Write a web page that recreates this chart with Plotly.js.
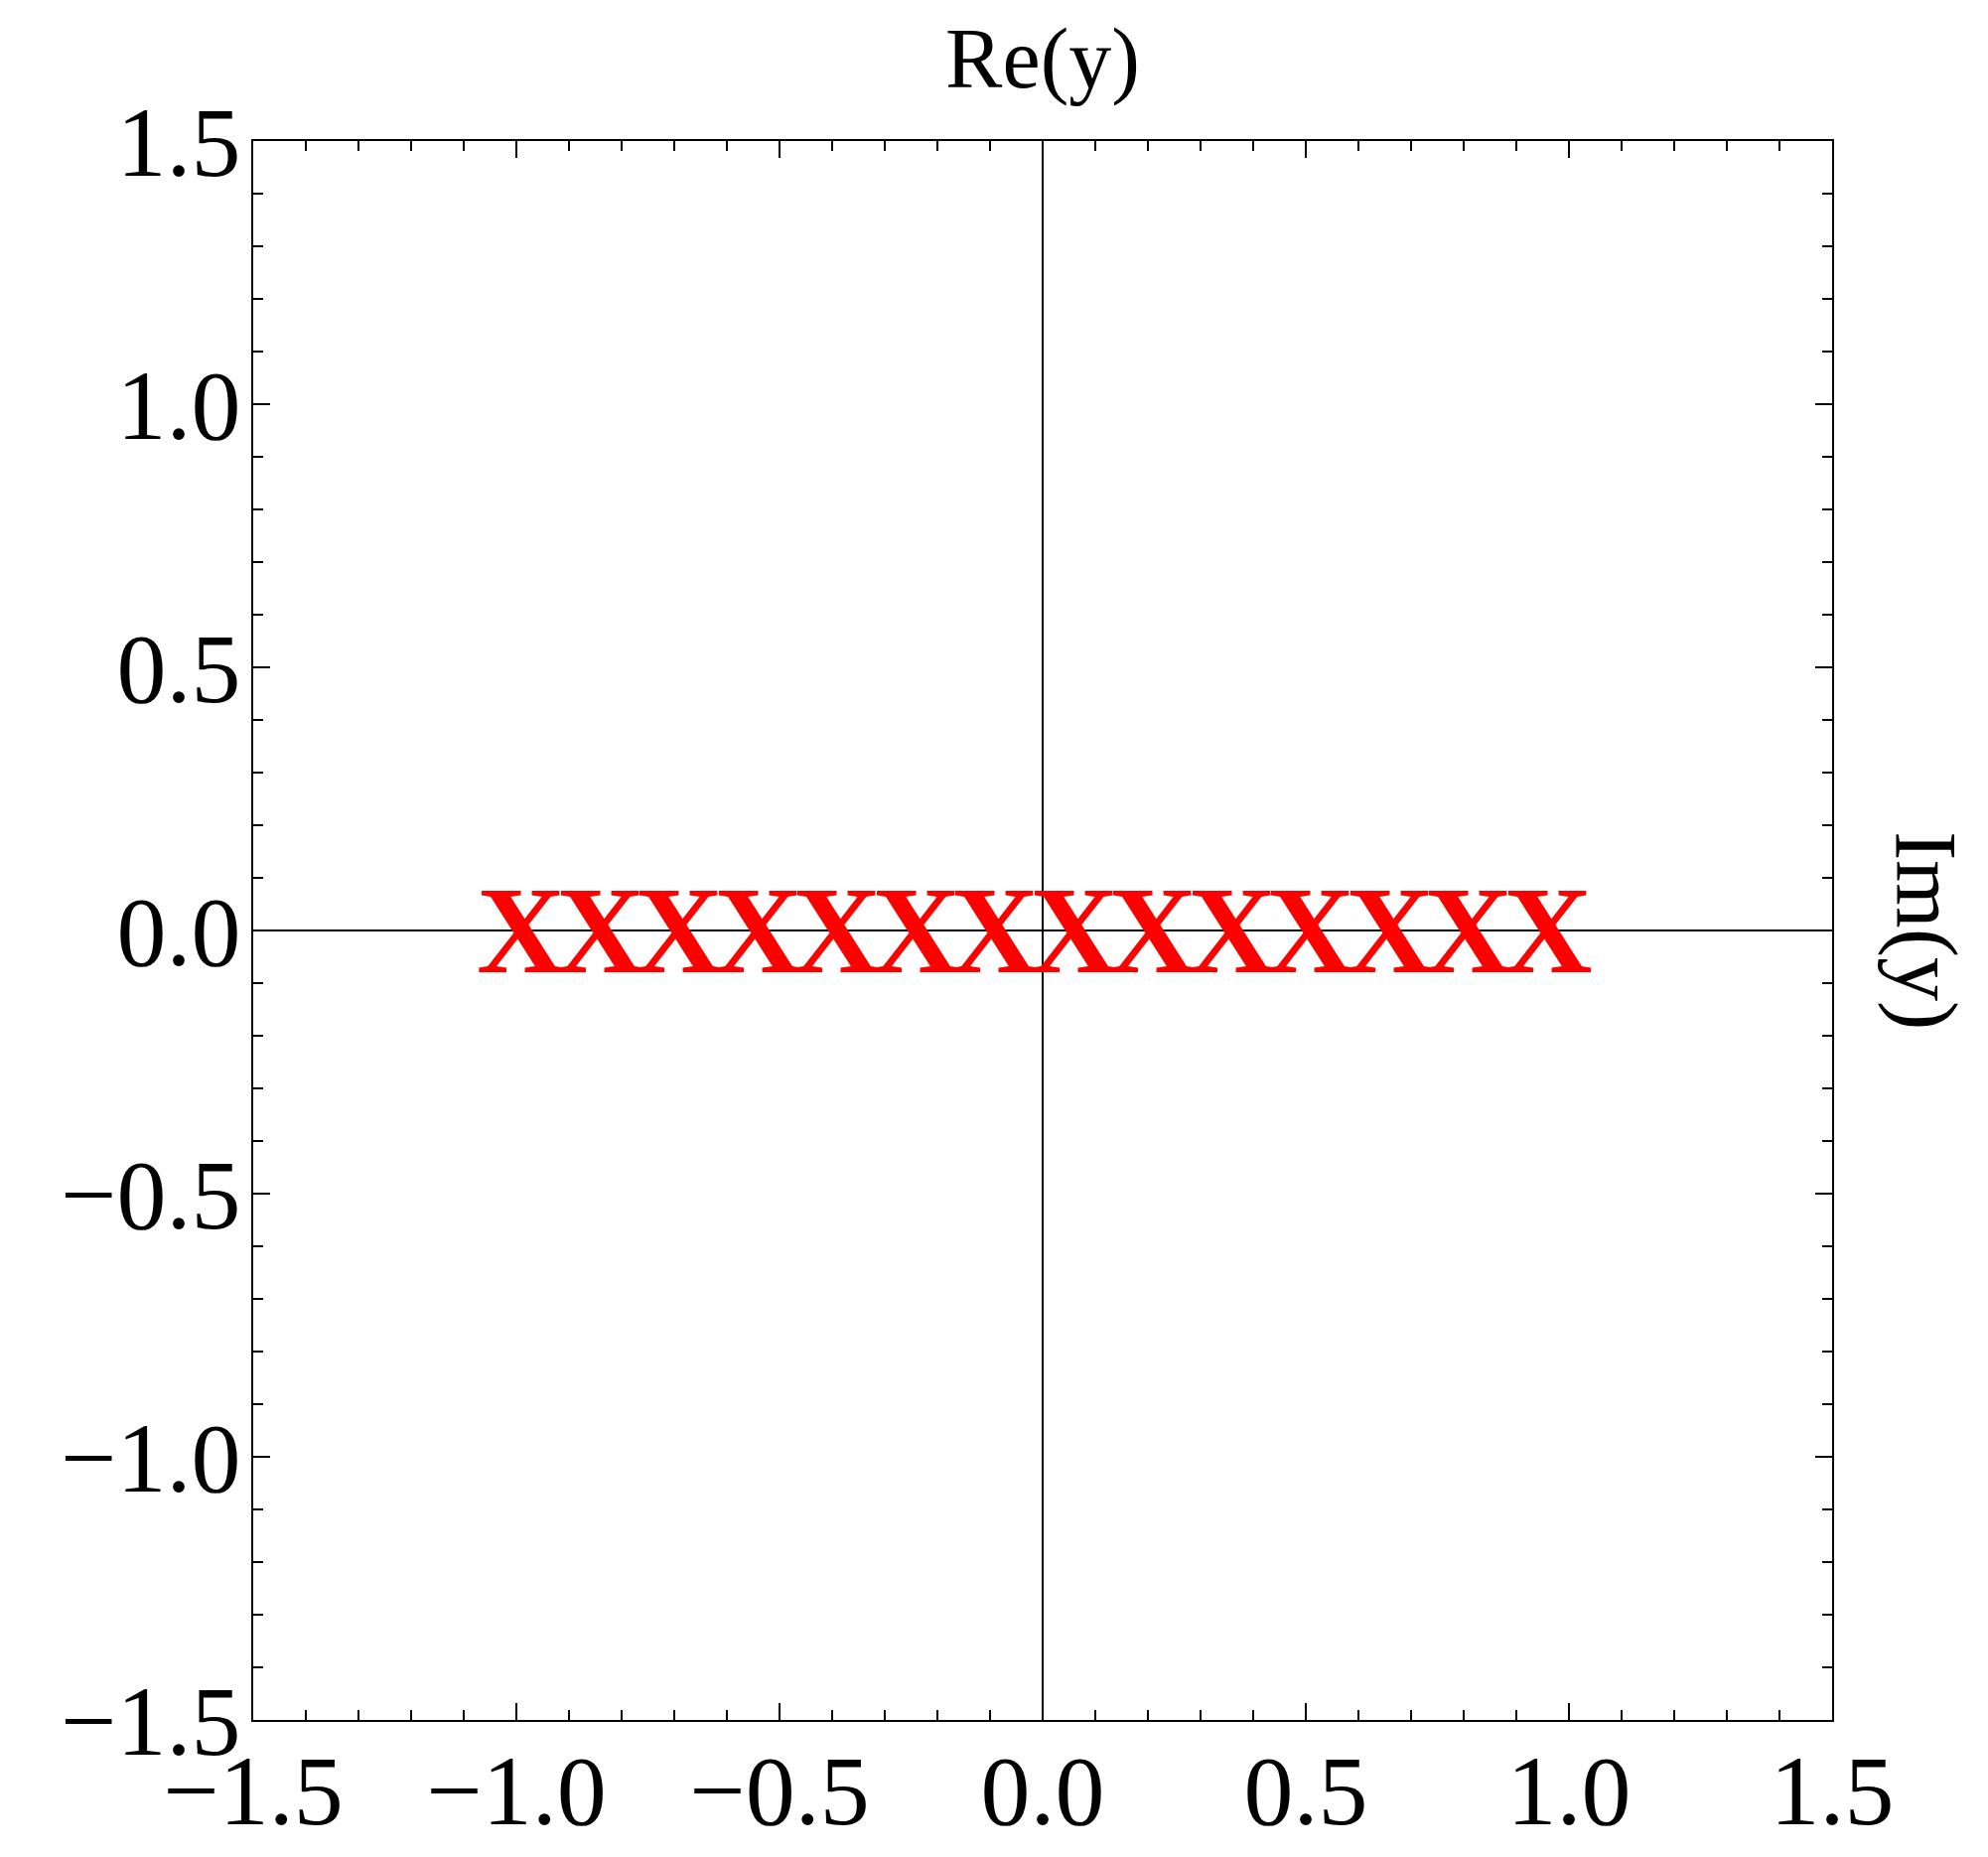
<!DOCTYPE html>
<html>
<head>
<meta charset="utf-8">
<script src="https://cdn.plot.ly/plotly-3.0.1.min.js"></script>
<style>
  body { margin: 0; background: #fff; }
  #plot { width: 2002px; height: 1870px; }
</style>
</head>
<body>
<div id="plot"></div>
<script>
// points on the real axis, drawn as "X" glyphs
const reValues = [-0.99, -0.84, -0.69, -0.54, -0.39, -0.24, -0.09, 0.06, 0.21, 0.36, 0.51, 0.66, 0.81, 0.96];
const imValues = [0, 0, 0, 0, 0, 0, 0, 0, 0, 0, 0, 0, 0, 0];
const tickValues = [-1.5, -1.0, -0.5, 0.0, 0.5, 1.0, 1.5];

const serif = 'Liberation Serif, Times New Roman, serif';

// empty trace so the axes exist; the glyphs are annotations placed on the data axes
const points = {
  x: reValues,
  y: imValues,
  mode: 'markers',
  type: 'scatter',
  marker: { size: 1, opacity: 0 },
  hoverinfo: 'none',
  showlegend: false
};

const crosses = reValues.map(function(re, i) {
  return {
    text: '<b>X</b>',
    xref: 'x', yref: 'y',
    x: re, y: imValues[i],
    xanchor: 'center', yanchor: 'middle',
    showarrow: false,
    borderpad: 0,
    font: { family: serif, size: 124, color: '#ff0000' }
  };
});

const axisStyle = {
  range: [-1.5, 1.5],
  tickvals: tickValues,
  tickformat: '.1f',
  ticks: 'inside',
  ticklen: 17,
  tickwidth: 1.3,
  tickcolor: '#000',
  showline: true,
  linecolor: '#000',
  linewidth: 1.6,
  mirror: 'allticks',
  showgrid: false,
  zeroline: true,
  zerolinecolor: '#000',
  zerolinewidth: 1.2,
  tickfont: { family: serif, size: 100, color: '#000' },
  minor: { dtick: 0.1, ticks: 'inside', ticklen: 10, tickwidth: 1.3, tickcolor: '#000', showgrid: false },
  fixedrange: true
};

const layout = {
  width: 2002,
  height: 1870,
  margin: { l: 255, r: 157, t: 142, b: 138 },
  paper_bgcolor: '#fff',
  plot_bgcolor: '#fff',
  font: { family: serif, color: '#000' },
  title: {
    text: 'Re(y)',
    font: { family: serif, size: 86, color: '#000' },
    x: 0.5, xanchor: 'center', xref: 'paper',
    y: 1 - 58 / 1870, yanchor: 'middle', yref: 'container'
  },
  xaxis: Object.assign({}, axisStyle, { ticklabelstandoff: -17 }),
  yaxis: Object.assign({}, axisStyle, { ticklabelstandoff: -9 }),
  annotations: crosses.concat([{
    text: 'Im(y)',
    xref: 'paper', yref: 'paper',
    x: 1, y: 0.5,
    xanchor: 'center', yanchor: 'middle',
    xshift: 95,
    textangle: 90,
    showarrow: false,
    font: { family: serif, size: 88, color: '#000' }
  }])
};

Plotly.newPlot('plot', [points], layout, { displayModeBar: false, staticPlot: true });
</script>
</body>
</html>
